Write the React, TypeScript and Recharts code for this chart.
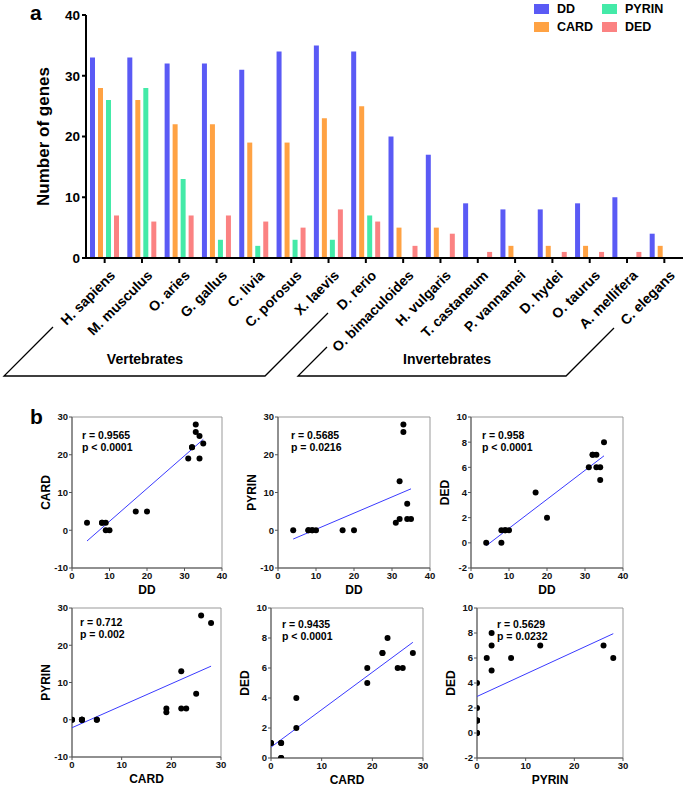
import React from 'react';
import {
  BarChart,
  Bar,
  XAxis,
  YAxis,
  Legend,
  ScatterChart,
  Scatter,
  ReferenceArea,
} from 'recharts';

const FONT = '"Liberation Sans", Arial, sans-serif';

const species = [
  'H. sapiens', 'M. musculus', 'O. aries', 'G. gallus', 'C. livia', 'C. porosus',
  'X. laevis', 'D. rerio', 'O. bimaculoides', 'H. vulgaris', 'T. castaneum',
  'P. vannamei', 'D. hydei', 'O. taurus', 'A. mellifera', 'C. elegans',
];
const ddCounts = [33, 33, 32, 32, 31, 34, 35, 34, 20, 17, 9, 8, 8, 9, 10, 4];
const cardCounts = [28, 26, 22, 22, 19, 19, 23, 25, 5, 5, 0, 2, 2, 2, 0, 2];
const pyrinCounts = [26, 28, 13, 3, 2, 3, 3, 7, 0, 0, 0, 0, 0, 0, 0, 0];
const dedCounts = [7, 6, 7, 7, 6, 5, 8, 6, 2, 4, 1, 0, 1, 1, 1, 0];
const geneTicks = [0, 10, 20, 30, 40];
const domainNames = ['DD', 'CARD', 'PYRIN', 'DED'];

const COLORS: Record<string, string> = {
  DD: '#5a5af5',
  CARD: '#ffa243',
  PYRIN: '#44eaa8',
  DED: '#fb8282',
};

const correlations = [
  ['r = 0.9565', 'p < 0.0001'],
  ['r = 0.5685', 'p = 0.0216'],
  ['r = 0.958', 'p < 0.0001'],
  ['r = 0.712', 'p = 0.002'],
  ['r = 0.9435', 'p < 0.0001'],
  ['r = 0.5629', 'p = 0.0232'],
];

const countsByName: Record<string, number[]> = {
  DD: ddCounts,
  CARD: cardCounts,
  PYRIN: pyrinCounts,
  DED: dedCounts,
};

// panel layout (plot area in page pixels)
const panels = [
  { xKey: 'DD', yKey: 'CARD', left: 72, top: 417, w: 150, h: 151, xDomain: [0, 40], xTicks: [0, 10, 20, 30, 40], yDomain: [-10, 30], yTicks: [-10, 0, 10, 20, 30], sx: 10, sy: 12 },
  { xKey: 'DD', yKey: 'PYRIN', left: 278, top: 417, w: 152, h: 151, xDomain: [0, 40], xTicks: [0, 10, 20, 30, 40], yDomain: [-10, 30], yTicks: [-10, 0, 10, 20, 30], sx: 13, sy: 12 },
  { xKey: 'DD', yKey: 'DED', left: 471, top: 417, w: 152, h: 151, xDomain: [0, 40], xTicks: [0, 10, 20, 30, 40], yDomain: [-2, 10], yTicks: [-2, 0, 2, 4, 6, 8, 10], sx: 11, sy: 12 },
  { xKey: 'CARD', yKey: 'PYRIN', left: 72, top: 608, w: 149, h: 149, xDomain: [0, 30], xTicks: [0, 10, 20, 30], yDomain: [-10, 30], yTicks: [-10, 0, 10, 20, 30], sx: 8, sy: 8 },
  { xKey: 'CARD', yKey: 'DED', left: 271, top: 608, w: 152, h: 150, xDomain: [0, 30], xTicks: [0, 10, 20, 30], yDomain: [0, 10], yTicks: [0, 2, 4, 6, 8, 10], sx: 11, sy: 10 },
  { xKey: 'PYRIN', yKey: 'DED', left: 477, top: 608, w: 146, h: 150, xDomain: [0, 30], xTicks: [0, 10, 20, 30], yDomain: [-2, 10], yTicks: [-2, 0, 2, 4, 6, 8, 10], sx: 20, sy: 10 },
];

const barData = species.map((name, i) => ({
  name,
  DD: ddCounts[i],
  CARD: cardCounts[i],
  PYRIN: pyrinCounts[i],
  DED: dedCounts[i],
}));

const SpeciesTick = (props: any) => {
  const { x, y, payload } = props;
  const tx = x + 4;
  const ty = y + 4;
  return (
    <text
      x={tx}
      y={ty}
      transform={`rotate(-45, ${tx}, ${ty})`}
      textAnchor="end"
      dominantBaseline="hanging"
      fontFamily={FONT}
      fontWeight="bold"
      fontSize={14}
      fill="#000"
    >
      {payload.value}
    </text>
  );
};

// legend in two columns: DD / CARD, then PYRIN / DED
const LegendBox = () => (
  <div
    style={{
      display: 'grid',
      gridTemplateRows: '18px 18px',
      gridAutoFlow: 'column',
      gridAutoColumns: '68px',
      fontFamily: FONT,
      fontWeight: 'bold',
      fontSize: 12.5,
    }}
  >
    {domainNames.map((name) => (
      <div key={name} style={{ display: 'flex', alignItems: 'center', gap: 8 }}>
        <div style={{ width: 15, height: 10, background: COLORS[name] }} />
        <span>{name}</span>
      </div>
    ))}
  </div>
);

function fitLine(xs: number[], ys: number[]) {
  const n = xs.length;
  const mx = xs.reduce((a, b) => a + b, 0) / n;
  const my = ys.reduce((a, b) => a + b, 0) / n;
  let sxy = 0;
  let sxx = 0;
  xs.forEach((x, i) => {
    sxy += (x - mx) * (ys[i] - my);
    sxx += (x - mx) * (x - mx);
  });
  const slope = sxy / sxx;
  const icpt = my - slope * mx;
  const x0 = Math.min(...xs);
  const x1 = Math.max(...xs);
  return [
    { x: x0, y: icpt + slope * x0 },
    { x: x1, y: icpt + slope * x1 },
  ];
}

const axisTick = { fontFamily: FONT, fontWeight: 'bold', fontSize: 9.5, fill: '#111' };
const titleStyle = { fontFamily: FONT, fontWeight: 'bold', fontSize: 12, fill: '#000' };

function ScatterPanel({ panel, stat }: { panel: (typeof panels)[number]; stat: string[] }) {
  const xs = countsByName[panel.xKey];
  const ys = countsByName[panel.yKey];
  const points = xs.map((x, i) => ({ x, y: ys[i] }));
  const fit = fitLine(xs, ys);
  const yAxisW = 52;
  const mTop = 6;
  const mRight = 8;
  const xAxisH = 30;
  return (
    <>
      <div style={{ position: 'absolute', left: panel.left - yAxisW, top: panel.top - mTop }}>
        <ScatterChart
          width={yAxisW + panel.w + mRight}
          height={mTop + panel.h + xAxisH}
          margin={{ top: mTop, right: mRight, left: 0, bottom: 0 }}
        >
          <XAxis
            type="number"
            dataKey="x"
            domain={panel.xDomain}
            ticks={panel.xTicks}
            allowDataOverflow
            height={xAxisH}
            stroke="#555"
            tickSize={3}
            tickMargin={1}
            tick={axisTick}
            label={{ value: panel.xKey, position: 'insideBottom', offset: 4, style: titleStyle }}
          />
          <YAxis
            type="number"
            dataKey="y"
            domain={panel.yDomain}
            ticks={panel.yTicks}
            allowDataOverflow
            width={yAxisW}
            stroke="#555"
            tickSize={3}
            tickMargin={1}
            tick={axisTick}
            label={{ value: panel.yKey, position: 'center', angle: -90, style: titleStyle }}
          />
          <ReferenceArea
            x1={panel.xDomain[0]}
            x2={panel.xDomain[1]}
            y1={panel.yDomain[0]}
            y2={panel.yDomain[1]}
            fill="none"
            stroke="#999"
            strokeWidth={1}
          />
          <Scatter
            data={fit}
            line={{ stroke: '#3a3aff', strokeWidth: 1 }}
            shape={() => <g />}
            isAnimationActive={false}
          />
          <Scatter
            data={points}
            shape={(p: any) => <circle cx={p.cx} cy={p.cy} r={3} fill="#000" />}
            isAnimationActive={false}
          />
        </ScatterChart>
      </div>
      <div
        style={{
          position: 'absolute',
          left: panel.left + panel.sx,
          top: panel.top + panel.sy,
          fontFamily: FONT,
          fontWeight: 'bold',
          fontSize: 10.5,
          lineHeight: '12px',
          color: '#000',
        }}
      >
        <div>{stat[0]}</div>
        <div>{stat[1]}</div>
      </div>
    </>
  );
}

export default function App() {
  return (
    <div style={{ position: 'absolute', left: 0, top: 0, width: 685, height: 789, background: '#fff', overflow: 'hidden' }}>
      <BarChart
        width={685}
        height={390}
        data={barData}
        margin={{ top: 15, right: 2, left: 0, bottom: 0 }}
        barSize={5}
        barGap={3}
      >
        <XAxis
          dataKey="name"
          interval={0}
          height={132}
          tick={<SpeciesTick />}
          tickSize={5}
          axisLine={{ stroke: '#000', strokeWidth: 2 }}
          tickLine={{ stroke: '#000', strokeWidth: 2 }}
        />
        <YAxis
          domain={[0, 40]}
          ticks={geneTicks}
          width={86}
          tickSize={4}
          tickMargin={2}
          axisLine={{ stroke: '#000', strokeWidth: 2 }}
          tickLine={{ stroke: '#000', strokeWidth: 2 }}
          tick={{ fontFamily: FONT, fontWeight: 'bold', fontSize: 13.5, fill: '#000' }}
          label={{
            value: 'Number of genes',
            position: 'center',
            angle: -90,
            style: { fontFamily: FONT, fontWeight: 'bold', fontSize: 17, fill: '#000' },
          }}
        />
        <Legend
          verticalAlign="middle"
          align="center"
          content={<LegendBox />}
          wrapperStyle={{ position: 'absolute', top: 0, left: 534, width: 150 }}
        />
        {domainNames.map((name) => (
          <Bar key={name} dataKey={name} fill={COLORS[name]} isAnimationActive={false} />
        ))}
      </BarChart>

      {panels.map((panel, i) => (
        <ScatterPanel key={i} panel={panel} stat={correlations[i]} />
      ))}

      <svg
        width={685}
        height={789}
        style={{ position: 'absolute', left: 0, top: 0, pointerEvents: 'none' }}
        fontFamily={FONT}
        fontWeight="bold"
      >
        <text x={30} y={20} fontSize={21}>a</text>
        <text x={30} y={424} fontSize={21}>b</text>
        <polyline points="53,327 4,376 265,376 328,313" fill="none" stroke="#000" strokeWidth={1.3} />
        <polyline points="327,347 298,376 566,376 614,328" fill="none" stroke="#000" strokeWidth={1.3} />
        <text x={145} y={364} fontSize={14} textAnchor="middle">Vertebrates</text>
        <text x={447} y={364} fontSize={14} textAnchor="middle">Invertebrates</text>
      </svg>
    </div>
  );
}
